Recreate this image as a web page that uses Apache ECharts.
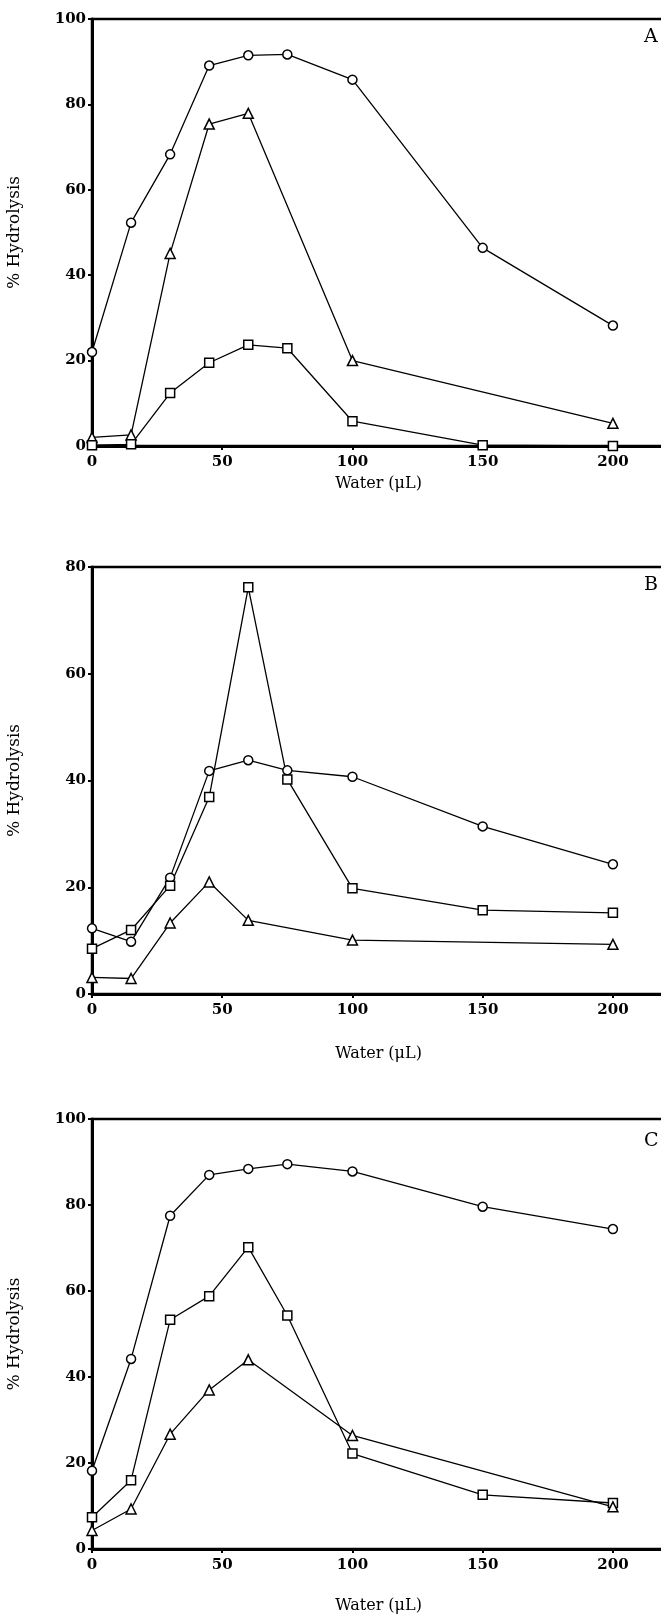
<!DOCTYPE html>
<html>
<head>
<meta charset="utf-8">
<script src="https://cdn.jsdelivr.net/npm/echarts@6/dist/echarts.min.js"></script>
<style>
html,body{margin:0;padding:0;background:#fff;}
#chart{width:661px;height:1617px;}
</style>
</head>
<body>
<div id="chart"></div>
<script>
// ---- data ----
const waterAll = [0, 15, 30, 45, 60, 75, 100, 150, 200];
const waterTri = [0, 15, 30, 45, 60, 100, 200];

const A_circle   = [22.0, 52.3, 68.3, 89.1, 91.5, 91.7, 85.8, 46.4, 28.2];
const A_triangle = [2.0, 2.6, 45.1, 75.4, 77.9, 20.0, 5.3];
const A_square   = [0.2, 0.4, 12.4, 19.5, 23.7, 22.9, 5.8, 0.2, 0.0];

const B_circle   = [12.3, 9.8, 21.8, 41.8, 43.8, 41.9, 40.7, 31.4, 24.3];
const B_square   = [8.5, 12.0, 20.3, 36.9, 76.2, 40.2, 19.8, 15.7, 15.2];
const B_triangle = [3.1, 2.9, 13.3, 21.0, 13.8, 10.1, 9.3];

const C_circle   = [18.2, 44.2, 77.5, 87.0, 88.4, 89.5, 87.8, 79.6, 74.4];
const C_square   = [7.4, 16.0, 53.3, 58.8, 70.2, 54.3, 22.2, 12.6, 10.7];
const C_triangle = [4.3, 9.3, 26.7, 37.0, 44.0, 26.4, 9.8];

const xTicks = [0, 50, 100, 150, 200];
const panelLabels = ['A', 'B', 'C'];
const yMaxes = [100, 80, 100];
const xTitle = 'Water (\u03bcL)';
const yTitle = '% Hydrolysis';

// ---- chart ----
const chart = echarts.init(document.getElementById('chart'), null, {renderer: 'canvas'});
const pair = (xs, ys) => xs.map((x, i) => [x, ys[i]]);

const grids = [
  {left: 92, right: -4, top: 19, height: 427},
  {left: 92, right: -4, top: 567, height: 427},
  {left: 92, right: -4, top: 1119, height: 430}
];
const nameGaps = [30, 52, 49];
const tickFont = {fontFamily: 'DejaVu Serif', fontWeight: 'bold', fontSize: 15, color: '#000'};

const xAxes = grids.map((g, i) => ({
  type: 'value', gridIndex: i, min: 0, max: 220, interval: 50,
  name: xTitle, nameLocation: 'middle', nameGap: nameGaps[i],
  nameTextStyle: {fontFamily: 'DejaVu Serif', fontSize: 16, color: '#000'},
  axisLine: {show: true, onZero: false, lineStyle: {color: '#000', width: 3}},
  axisTick: {show: true, length: 4, lineStyle: {color: '#000', width: 2},
    customValues: xTicks},
  axisLabel: Object.assign({margin: 9, customValues: xTicks,
    formatter: v => (xTicks.indexOf(v) >= 0 ? String(v) : '')}, tickFont),
  splitLine: {show: false}
}));
const yAxes = grids.map((g, i) => ({
  type: 'value', gridIndex: i, min: 0, max: yMaxes[i], interval: 20,
  name: yTitle, nameLocation: 'middle', nameGap: 69,
  nameTextStyle: {fontFamily: 'DejaVu Serif', fontSize: 17, color: '#000'},
  axisLine: {show: true, lineStyle: {color: '#000', width: 3}},
  axisTick: {show: true, length: 4, lineStyle: {color: '#000', width: 2}},
  axisLabel: Object.assign({margin: 6}, tickFont),
  splitLine: {show: false}
}));

function ser(idx, xs, ys, sym, size) {
  return {
    type: 'line', xAxisIndex: idx, yAxisIndex: idx,
    data: pair(xs, ys), symbol: sym, symbolSize: size, showSymbol: true,
    clip: false, z: 3,
    lineStyle: {color: '#000', width: 1.3},
    itemStyle: {color: '#fff', borderColor: '#000', borderWidth: 1.5},
    emphasis: {disabled: true}, animation: false
  };
}

const series = [
  ser(0, waterAll, A_circle, 'circle', 9),
  ser(0, waterTri, A_triangle, 'triangle', 10),
  ser(0, waterAll, A_square, 'rect', 9),
  ser(1, waterAll, B_circle, 'circle', 9),
  ser(1, waterAll, B_square, 'rect', 9),
  ser(1, waterTri, B_triangle, 'triangle', 10),
  ser(2, waterAll, C_circle, 'circle', 9),
  ser(2, waterAll, C_square, 'rect', 9),
  ser(2, waterTri, C_triangle, 'triangle', 10)
];

const graphics = grids.map((g, i) => ({
  type: 'text', left: 644, top: g.top + (i === 2 ? 13 : 9),
  style: {text: panelLabels[i], font: '19px "DejaVu Serif"', fill: '#000'}
}));

chart.setOption({
  animation: false,
  backgroundColor: '#fff',
  grid: grids.map(g => Object.assign({show: true, borderColor: '#000', borderWidth: 2.5,
    backgroundColor: 'transparent', containLabel: false, outerBoundsMode: 'none'}, g)),
  xAxis: xAxes,
  yAxis: yAxes,
  series: series,
  graphic: graphics
});
</script>
</body>
</html>
